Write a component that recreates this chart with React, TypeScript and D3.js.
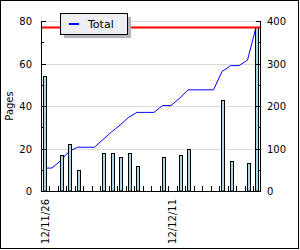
import React from "react";
import * as d3 from "d3";

const days: string[] = [
  "12/11/26","12/11/27","12/11/28","12/11/29","12/11/30","12/12/01","12/12/02","12/12/03",
  "12/12/04","12/12/05","12/12/06","12/12/07","12/12/08","12/12/09","12/12/10","12/12/11",
  "12/12/12","12/12/13","12/12/14","12/12/15","12/12/16","12/12/17","12/12/18","12/12/19",
  "12/12/20","12/12/21",
];
const pages: number[] = [54,0,17,22,10,0,0,18,18,16,18,12,0,0,16,0,17,20,0,0,0,43,14,0,13,77];
const shownLabels: string[] = ["12/11/26", "12/12/11"];
const leftTicks: number[] = [0, 20, 40, 60, 80];
const leftMinor: number[] = [10, 30, 50, 70];
const rightTicks: number[] = [0, 100, 200, 300, 400];
const rightMinor: number[] = [50, 150, 250, 350];
const goal = 385;
const seriesName = "Total";
const yTitle = "Pages";

export default function App() {
  const L = 41, R = 260, T = 21, B = 191;
  const x = d3.scaleLinear().domain([0, days.length]).range([40.5, 261.5]);
  const yL = d3.scaleLinear().domain([0, 80]).range([B, T]);
  const yR = d3.scaleLinear().domain([0, 400]).range([B, T]);
  const totals: number[] = [];
  pages.reduce((acc, v) => { const s = acc + v; totals.push(s); return s; }, 0);
  const line = d3.line<number>().x((_, i) => x(i) + 3).y((d) => yR(d));
  const font = "DejaVu Sans, sans-serif";
  return (
    <svg width={300} height={250} style={{ position: "absolute", left: 0, top: 0, background: "#fff" }}>
      <rect x={0.5} y={0.5} width={298} height={248} fill="#fff" stroke="#000" />
      {/* grid */}
      {leftTicks.filter((t) => t > 0).map((t) => (
        <line key={"g" + t} x1={L} x2={R} y1={Math.round(yL(t)) + 0.5} y2={Math.round(yL(t)) + 0.5} stroke="#dcdcdc" />
      ))}
      {/* total line */}
      <path d={line(totals) || ""} fill="none" stroke="#0000ff" strokeWidth={1} />
      {/* bars */}
      {pages.map((v, i) => v > 0 ? (
        <rect key={"b" + i} x={Math.round(x(i) + 2) + 0.5} y={Math.round(yL(v)) + 0.5} width={3}
          height={B - Math.round(yL(v)) - 0.5} fill="#add8e6" stroke="#000" strokeWidth={1} />
      ) : null)}
      {/* goal line */}
      <line x1={L} x2={R} y1={yR(goal)} y2={yR(goal)} stroke="#ff0000" strokeWidth={2} />
      {/* axes */}
      <line x1={L + 0.5} x2={L + 0.5} y1={T} y2={B + 0.5} stroke="#000" />
      <line x1={R + 0.5} x2={R + 0.5} y1={T} y2={B + 0.5} stroke="#000" />
      <line x1={L} x2={R + 1} y1={B + 0.5} y2={B + 0.5} stroke="#000" />
      {leftTicks.map((t) => (
        <g key={"lt" + t}>
          <line x1={L} x2={L + 5} y1={Math.round(yL(t)) + 0.5} y2={Math.round(yL(t)) + 0.5} stroke="#000" />
          <text x={32} y={yL(t) + 4} textAnchor="end" fontSize={10} fontFamily={font}>{t}</text>
        </g>
      ))}
      {leftMinor.map((t) => (
        <line key={"lm" + t} x1={L} x2={L + 3} y1={Math.round(yL(t)) + 0.5} y2={Math.round(yL(t)) + 0.5} stroke="#000" />
      ))}
      {rightTicks.map((t) => (
        <g key={"rt" + t}>
          <line x1={R - 4} x2={R + 1} y1={Math.round(yR(t)) + 0.5} y2={Math.round(yR(t)) + 0.5} stroke="#000" />
          <text x={267} y={yR(t) + 4} textAnchor="start" fontSize={10} fontFamily={font}>{t}</text>
        </g>
      ))}
      {rightMinor.map((t) => (
        <line key={"rm" + t} x1={R - 2} x2={R + 1} y1={Math.round(yR(t)) + 0.5} y2={Math.round(yR(t)) + 0.5} stroke="#000" />
      ))}
      {days.map((_, i) => i > 0 ? (
        <line key={"xt" + i} x1={Math.round(x(i)) + 0.5} x2={Math.round(x(i)) + 0.5} y1={B - 5} y2={B} stroke="#000" />
      ) : null)}
      {days.map((d, i) => shownLabels.includes(d) ? (
        <text key={"xl" + i} transform={`translate(${x(i + 0.5) + 4},199) rotate(-90)`} textAnchor="end"
          fontSize={10} fontFamily={font}>{d}</text>
      ) : null)}
      <text transform={`translate(13,${(T + B) / 2}) rotate(-90)`} textAnchor="middle" fontSize={10} fontFamily={font}>{yTitle}</text>
      {/* legend */}
      <rect x={64} y={17} width={67} height={21} fill="#b4b4b4" />
      <rect x={60.5} y={13.5} width={67} height={21} fill="#eeeef4" stroke="#000" />
      <line x1={69} x2={79} y1={24} y2={24} stroke="#0000ff" strokeWidth={2} />
      <text x={88} y={28} fontSize={11} fontFamily={font}>{seriesName}</text>
    </svg>
  );
}
